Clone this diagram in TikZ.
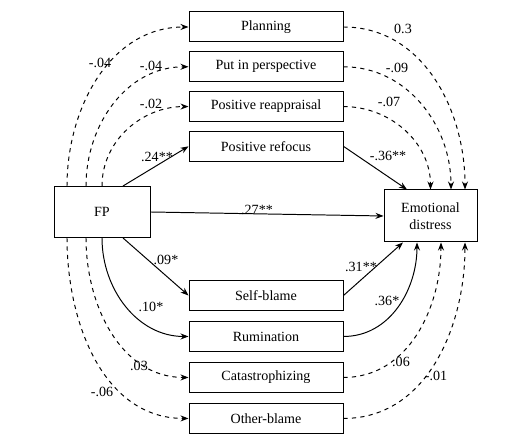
\documentclass[tikz,border=0pt]{standalone}
\usepackage{fontspec}
\setmainfont{Liberation Serif}
\usetikzlibrary{positioning,calc,arrows.meta}

\begin{document}
\begin{tikzpicture}[x=0.25mm, y=0.25mm, font=\fontsize{10}{12}\selectfont,
	strategy/.style={rectangle, draw=black, line width=0.7pt, minimum width=38.5mm, minimum height=7.5mm, inner sep=1pt},
	outer/.style={rectangle, draw=black, line width=0.7pt, minimum width=24mm, minimum height=12.75mm, align=center},
	eff/.style={line width=0.7pt, -{Stealth[length=2mm, width=1.5mm]}},
	noeff/.style={eff, dashed},
	coef/.style={inner sep=0pt}]

	\useasboundingbox (0,0) rectangle (518,440);

	% outer variables
	\node[outer] (fp) at (102,228) {FP};
	\node[outer, minimum width=23.25mm, minimum height=13mm] (ed) at (430.5,224) {Emotional\\distress};

	% adaptive strategies
	\node[strategy] (plan) at (266,413) {Planning};
	\node[strategy, below=2.2mm of plan] (pip) {Put in perspective};
	\node[strategy, below=2.2mm of pip] (prea) {Positive reappraisal};
	\node[strategy, below=2.2mm of prea] (pref) {Positive refocus};

	% maladaptive strategies
	\node[strategy] (sblame) at (266,144.5) {Self-blame};
	\node[strategy, below=2.5mm of sblame] (rum) {Rumination};
	\node[strategy, below=2.5mm of rum] (cat) {Catastrophizing};
	\node[strategy, below=2.5mm of cat] (oblame) {Other-blame};

	% paths from FP
	\draw[noeff] ($(fp.north)+(-35,0)$) to[out=90, in=180] (plan.west);
	\draw[noeff] ($(fp.north)+(-16,0)$) to[out=90, in=180] (pip.west);
	\draw[noeff] (fp.north) to[out=90, in=180] (prea.west);
	\draw[eff] ($(fp.north)+(21,0)$) -- (pref.west);
	\draw[eff] (fp.east) -- (ed.west);
	\draw[eff] ($(fp.south)+(21,0)$) -- (sblame.west);
	\draw[eff] (fp.south) to[out=-90, in=180] (rum.west);
	\draw[noeff] ($(fp.south)+(-16,0)$) to[out=-90, in=180] (cat.west);
	\draw[noeff] ($(fp.south)+(-35,0)$) to[out=-90, in=180] (oblame.west);

	% paths to emotional distress
	\draw[noeff] (plan.east) to[out=0, in=90] ($(ed.north)+(34.5,0)$);
	\draw[noeff] (pip.east) to[out=0, in=90] ($(ed.north)+(20.5,0)$);
	\draw[noeff] (prea.east) to[out=0, in=90] (ed.north);
	\draw[eff] (pref.east) -- ($(ed.north)+(-23.5,0)$);
	\draw[eff] (sblame.east) -- ($(ed.south)+(-27.5,0)$);
	\draw[eff] (rum.east) to[out=0, in=-90] ($(ed.south)+(-13.5,0)$);
	\draw[noeff] (cat.east) to[out=0, in=-90] ($(ed.south)+(10.5,0)$);
	\draw[noeff] (oblame.east) to[out=0, in=-90] ($(ed.south)+(34.5,0)$);

	% coefficients
	\node[coef] (c1) at (100,377) {-.04};
	\node[coef] (c2) at (151,374) {-.04};
	\node[coef] (c3) at (151,336) {-.02};
	\node[coef] (c4) at (157,283) {.24**};
	\node[coef] (c5) at (403,411) {0.3};
	\node[coef] (c6) at (397,372) {-.09};
	\node[coef] (c7) at (389,338) {-.07};
	\node[coef] (c8) at (388,284) {-.36**};
	\node[coef] (c9) at (257,230) {.27**};
	\node[coef] (c10) at (166,180) {.09*};
	\node[coef] (c11) at (151,133) {.10*};
	\node[coef] (c12) at (139,74) {.03};
	\node[coef] (c13) at (102,48) {-.06};
	\node[coef] (c14) at (361,173) {.31**};
	\node[coef] (c15) at (387,139) {.36*};
	\node[coef] (c16) at (401,78) {.06};
	\node[coef] (c17) at (436,64) {-.01};
\end{tikzpicture}
\end{document}
